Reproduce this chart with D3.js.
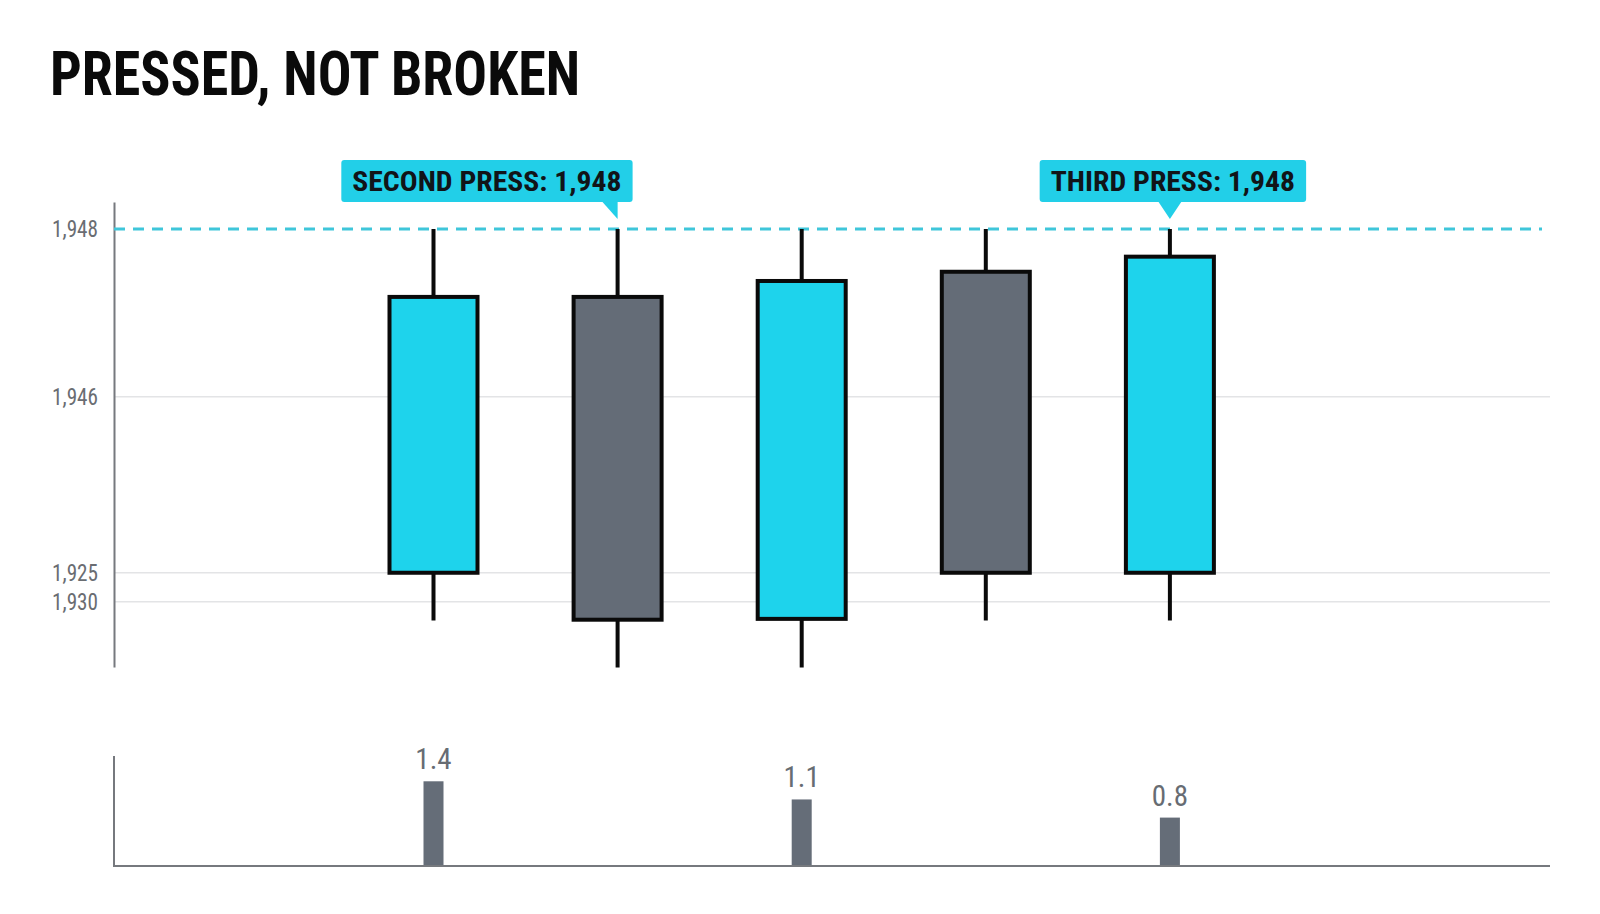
<!DOCTYPE html>
<html>
<head>
<meta charset="utf-8">
<script src="https://cdn.jsdelivr.net/npm/d3@7/dist/d3.min.js"></script>
<style>
  html, body { margin: 0; padding: 0; background: #ffffff; }
  svg { display: block; }
  text { font-family: "Roboto Condensed", Roboto, "Noto Sans", sans-serif; }
</style>
</head>
<body>
<svg id="chart" width="1600" height="914"></svg>
<script>
// ---------------- data ----------------
const candleIds = ["C1", "C2", "C3", "C4", "C5"];
const openVals  = [1943.90, 1947.19, 1943.35, 1947.49, 1943.90];
const highVals  = [1948.00, 1948.00, 1948.00, 1948.00, 1948.00];
const lowVals   = [1943.33, 1942.77, 1942.77, 1943.33, 1943.33];
const closeVals = [1947.19, 1943.34, 1947.38, 1943.90, 1947.67];

const tickValues = [1948, 1946, 1943.90, 1943.555];
const tickLabels = ["1,948", "1,946", "1,925", "1,930"];

const volumeIds    = ["C1", "C3", "C5"];
const volumeVals   = [1.4, 1.1, 0.8];
const volumeLabels = ["1.4", "1.1", "0.8"];

const resistance = 1948;
const annotationIds    = ["C2", "C5"];
const annotationLabels = ["SECOND PRESS: 1,948", "THIRD PRESS: 1,948"];
const titleText = "PRESSED, NOT BROKEN";

// ---------------- styles ----------------
const CYAN = "#1ed3ec";
const GRAY = "#646c77";
const LINE_CYAN = "#3fc6da";
const AXIS = "#76797e";
const GRID = "#e3e4e6";
const TICK_TXT = "#6a6d72";

function condense(sel, k) {
  sel.each(function () {
    const w = this.getComputedTextLength();
    this.setAttribute("textLength", w * k);
    this.setAttribute("lengthAdjust", "spacingAndGlyphs");
  });
}

const svg = d3.select("#chart");

// ---------------- scales ----------------
const idx = d3.scaleOrdinal().domain(candleIds).range(d3.range(candleIds.length));
const xLin = d3.scaleLinear().domain([-1.7355, 6.0647]).range([114, 1550]);
const x = id => xLin(idx(id));

const y = d3.scaleLinear().domain([1942.776, 1948.322]).range([667, 202]);
const yv = d3.scaleLinear().domain([0, 1.818]).range([866, 756]);

// ---------------- title ----------------
svg.append("text")
  .attr("x", 50).attr("y", 95)
  .attr("font-size", 61).attr("font-weight", 700)
  .attr("fill", "#0a0a0a")
  .attr("textLength", 530).attr("lengthAdjust", "spacingAndGlyphs")
  .text(titleText);

// ---------------- gridlines ----------------
svg.append("g").selectAll("line")
  .data(tickValues.filter(v => v !== resistance))
  .join("line")
  .attr("x1", 114).attr("x2", 1550)
  .attr("y1", d => y(d)).attr("y2", d => y(d))
  .attr("stroke", GRID).attr("stroke-width", 1.6);

// ---------------- y axis ----------------
const yAxis = d3.axisLeft(y)
  .tickValues(tickValues)
  .tickFormat((d, i) => tickLabels[i])
  .tickSize(0).tickSizeOuter(0).tickPadding(16);

const gy = svg.append("g").attr("transform", "translate(114,0)").call(yAxis);
gy.select(".domain").attr("stroke", AXIS).attr("stroke-width", 2);
gy.selectAll(".tick text")
  .attr("font-size", 23).attr("fill", TICK_TXT)
  .attr("font-family", "'Roboto Condensed', Roboto, sans-serif")
  .attr("font-weight", 400)
  .call(condense, 0.92);

// ---------------- resistance dashed line ----------------
svg.append("line")
  .attr("x1", 114).attr("x2", 1542)
  .attr("y1", y(resistance)).attr("y2", y(resistance))
  .attr("stroke", LINE_CYAN).attr("stroke-width", 3.2)
  .attr("stroke-dasharray", "11 8");

// ---------------- candles ----------------
const candles = candleIds.map((id, i) => ({
  id, open: openVals[i], high: highVals[i], low: lowVals[i], close: closeVals[i]
}));
const bodyW = 88;

const gc = svg.append("g");
gc.selectAll("line.wick")
  .data(candles).join("line")
  .attr("class", "wick")
  .attr("x1", d => x(d.id)).attr("x2", d => x(d.id))
  .attr("y1", d => y(d.high)).attr("y2", d => y(d.low))
  .attr("stroke", "#0a0a0a").attr("stroke-width", 4);

gc.selectAll("rect.body")
  .data(candles).join("rect")
  .attr("class", "body")
  .attr("x", d => x(d.id) - bodyW / 2)
  .attr("width", bodyW)
  .attr("y", d => y(Math.max(d.open, d.close)))
  .attr("height", d => Math.abs(y(d.open) - y(d.close)))
  .attr("fill", d => d.close >= d.open ? CYAN : GRAY)
  .attr("stroke", "#0a0a0a").attr("stroke-width", 4);

// ---------------- annotations ----------------
const ga = svg.append("g");
annotationIds.forEach((id, i) => {
  const cx = x(id);
  const tipY = y(resistance) - 10;
  const boxBottom = tipY - 17;
  const boxH = 42;
  const g = ga.append("g");
  const rect = g.append("rect");
  const ptr = g.append("path");
  const t = g.append("text")
    .attr("font-size", 28).attr("font-weight", 700)
    .attr("fill", "#111418")
    .attr("font-family", "'Roboto Condensed', Roboto, sans-serif")
    .text(annotationLabels[i]);
  condense(t, 1.06);
  const tw = +t.attr("textLength");
  const boxW = tw + 22;
  let boxX;
  if (i === 0) {
    boxX = cx + 15 - boxW;
    ptr.attr("d", `M${cx - 16},${boxBottom - 1} L${cx},${boxBottom - 1} L${cx},${tipY} Z`);
  } else {
    boxX = cx + 3 - boxW / 2;
    ptr.attr("d", `M${cx - 12},${boxBottom - 1} L${cx + 12},${boxBottom - 1} L${cx},${tipY} Z`);
  }
  rect.attr("x", boxX).attr("y", boxBottom - boxH)
    .attr("width", boxW).attr("height", boxH)
    .attr("rx", 3).attr("fill", "#22cfe8");
  ptr.attr("fill", "#22cfe8");
  t.attr("x", boxX + 11).attr("y", boxBottom - 11);
});

// ---------------- volume panel ----------------
const gvAxis = svg.append("g").attr("stroke", AXIS).attr("stroke-width", 2);
gvAxis.append("line").attr("x1", 114).attr("x2", 114).attr("y1", yv.range()[1]).attr("y2", yv(0));
gvAxis.append("line").attr("x1", 113).attr("x2", 1550).attr("y1", yv(0)).attr("y2", yv(0));

const vols = volumeIds.map((id, i) => ({ id, v: volumeVals[i], label: volumeLabels[i] }));
const volW = 20;
svg.append("g").selectAll("rect")
  .data(vols).join("rect")
  .attr("x", d => x(d.id) - volW / 2)
  .attr("width", volW)
  .attr("y", d => yv(d.v))
  .attr("height", d => yv(0) - yv(d.v) - 1)
  .attr("fill", "#656d78");

svg.append("g").selectAll("text")
  .data(vols).join("text")
  .attr("x", d => x(d.id))
  .attr("y", d => yv(d.v) - 12)
  .attr("text-anchor", "middle")
  .attr("font-size", 29).attr("fill", "#676c73")
  .attr("font-family", "'Roboto Condensed', Roboto, sans-serif")
  .attr("font-weight", 400)
  .text(d => d.label);
</script>
</body>
</html>
